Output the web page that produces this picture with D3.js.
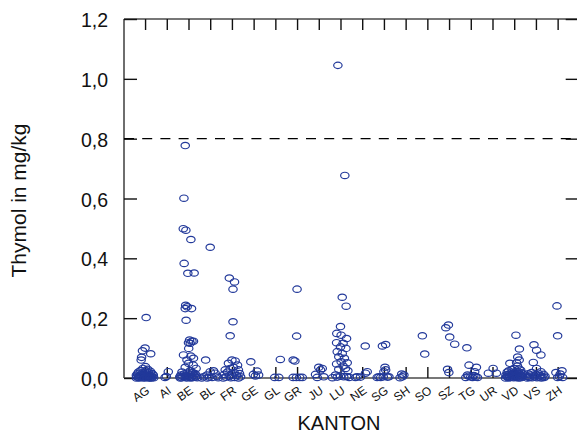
<!DOCTYPE html>
<html>
<head>
<meta charset="utf-8">
<script src="https://cdn.jsdelivr.net/npm/d3@7"></script>
<style>
  html, body { margin: 0; padding: 0; background: #fff; }
  svg { display: block; font-family: "Liberation Sans", Arial, sans-serif; }
</style>
</head>
<body>
<svg id="chart" width="577" height="434"></svg>
<script>
// Thymol residues per canton. Each sample: [mg/kg, horizontal jitter in category widths]
const cantons = ["AG","AI","BE","BL","FR","GE","GL","GR","JU","LU","NE","SG","SH","SO","SZ","TG","UR","VD","VS","ZH"];
const yTicks = [0, 0.2, 0.4, 0.6, 0.8, 1.0, 1.2];
const limitValue = 0.8;

const AG = [[0.202,0.05],[0.100,0.0],[0.091,-0.12],[0.081,0.26],[0.069,-0.16],[0.060,-0.18],
  [0.038,0.02],[0.032,-0.1],[0.029,0.12],[0.025,-0.2],[0.024,0.05],[0.022,0.25],[0.020,-0.3],[0.019,0.0],
  [0.018,0.15],[0.016,-0.12],[0.015,0.32],[0.014,-0.35],[0.013,0.08],[0.012,-0.05],[0.011,0.2],[0.010,-0.22],
  [0.010,0.38],[0.009,-0.4],[0.008,0.1],[0.008,-0.15],[0.007,0.28],[0.006,-0.28],[0.006,0.02],[0.005,0.18],
  [0.005,-0.08],[0.004,0.35],[0.004,-0.38],[0.003,0.12],[0.003,-0.18],[0.002,0.25],[0.002,-0.3],[0.002,0.05],
  [0.001,-0.1],[0.001,0.4],[0.001,0.15],[0.000,-0.25],[0.000,0.3],[0.000,-0.02],[0.000,0.2],[0.000,-0.4]];
const AI = [[0.021,0.07],[0.005,-0.02],[0.002,-0.08]];
const BE = [[0.777,-0.15],[0.601,-0.21],[0.499,-0.24],[0.494,-0.12],[0.463,0.11],[0.383,-0.2],[0.350,-0.03],
  [0.351,0.26],[0.243,-0.13],[0.238,-0.06],[0.232,-0.15],[0.232,0.14],[0.193,-0.11],[0.127,0.05],[0.123,0.16],
  [0.118,0.0],[0.123,0.23],[0.116,0.08],[0.099,0.01],[0.077,-0.23],[0.073,0.11],[0.060,-0.07],[0.066,0.23],
  [0.049,0.0],[0.043,0.22],[0.036,-0.15],[0.032,0.35],[0.024,0.08],
  [0.020,-0.3],[0.018,0.18],[0.016,-0.05],[0.015,0.3],[0.013,-0.2],[0.012,0.1],[0.010,-0.35],[0.009,0.25],
  [0.008,-0.1],[0.007,0.38],[0.006,0.02],[0.005,-0.25],[0.004,0.15],[0.004,-0.4],[0.003,0.32],[0.003,-0.15],
  [0.002,0.05],[0.002,0.22],[0.001,-0.3],[0.001,0.4],[0.000,-0.08],[0.000,0.12],[0.000,-0.38]];
const BL = [[0.437,0.0],[0.060,-0.21],[0.024,0.15],[0.021,0.0],[0.016,0.23],[0.010,-0.15],[0.006,0.31],
  [0.004,-0.31],[0.003,-0.05],[0.002,0.09],[0.001,0.37],[0.000,-0.39],[0.000,-0.14]];
const FR = [[0.334,-0.12],[0.321,0.12],[0.297,0.05],[0.188,0.05],[0.141,-0.08],[0.060,0.0],[0.057,0.15],
  [0.049,-0.16],[0.043,0.26],[0.036,0.07],[0.032,-0.08],[0.027,-0.31],[0.027,0.3],
  [0.020,-0.2],[0.018,0.1],[0.015,0.35],[0.012,-0.35],[0.010,0.0],[0.008,0.22],[0.006,-0.12],[0.004,0.4],
  [0.003,-0.28],[0.002,0.12],[0.001,-0.05],[0.000,0.3],[0.000,-0.4]];
const GE = [[0.054,-0.13],[0.023,0.16],[0.012,-0.01],[0.010,0.23],[0.007,0.08]];
const GL = [[0.062,0.23],[0.002,-0.03],[0.002,0.16]];
const GR = [[0.297,0.0],[0.140,-0.02],[0.060,-0.18],[0.057,-0.1],[0.002,-0.18],[0.002,-0.03],[0.002,0.12],[0.002,0.24]];
const JU = [[0.036,0.0],[0.032,0.16],[0.027,0.08],[0.012,-0.15],[0.004,0.23],[0.002,-0.07]];
const LU = [[1.045,-0.12],[0.677,0.2],[0.270,0.08],[0.240,0.26],[0.172,0.0],[0.149,-0.17],[0.143,0.03],
  [0.132,0.28],[0.118,-0.18],[0.116,0.12],[0.104,0.0],[0.099,0.25],[0.088,-0.15],[0.082,0.08],[0.071,-0.08],
  [0.066,0.18],[0.054,0.03],[0.051,0.31],[0.047,-0.18],[0.040,0.12],[0.032,0.23],[0.029,-0.08],[0.024,0.34],
  [0.010,-0.23],[0.006,0.0],[0.004,0.15],[0.003,-0.15],[0.005,0.28],[0.001,-0.37],[0.002,0.4]];
const NE = [[0.107,0.14],[0.021,0.23],[0.016,0.15],[0.004,-0.23],[0.003,-0.08],[0.002,-0.31]];
const SG = [[0.107,-0.07],[0.112,0.08],[0.036,0.05],[0.027,0.08],[0.021,0.0],[0.004,-0.23],[0.002,-0.15],
  [0.003,0.16],[0.004,0.23],[0.002,-0.31],[0.004,-0.03]];
const SH = [[0.013,-0.18],[0.010,-0.08],[0.001,-0.26],[0.004,-0.15]];
const SO = [[0.141,-0.23],[0.080,-0.12]];
const SZ = [[0.168,-0.15],[0.177,-0.03],[0.137,0.03],[0.113,0.26],[0.029,-0.07],[0.018,-0.01]];
const TG = [[0.101,-0.18],[0.043,-0.08],[0.036,0.26],[0.021,0.18],[0.010,-0.15],[0.004,0.0],[0.002,0.08],
  [0.004,0.23],[0.002,0.31],[0.002,-0.23],[0.006,-0.09],[0.008,0.14]];
const UR = [[0.032,0.03],[0.016,-0.19],[0.016,0.18]];
const VD = [[0.143,0.08],[0.097,0.24],[0.070,0.16],[0.060,0.23],[0.051,0.11],[0.049,-0.2],[0.040,0.15],
  [0.032,0.0],[0.030,0.23],
  [0.028,-0.1],[0.026,0.3],[0.024,-0.25],[0.022,0.08],[0.021,0.18],[0.020,-0.32],[0.018,0.0],[0.017,0.35],
  [0.016,-0.15],[0.015,0.22],[0.014,-0.05],[0.013,0.4],[0.012,-0.28],[0.011,0.12],[0.010,-0.38],[0.009,0.28],
  [0.008,-0.12],[0.008,0.05],[0.007,0.33],[0.006,-0.22],[0.006,0.15],[0.005,-0.35],[0.005,0.02],[0.004,0.25],
  [0.004,-0.08],[0.003,0.38],[0.003,-0.3],[0.002,0.1],[0.002,-0.18],[0.001,0.3],[0.001,-0.02],[0.000,-0.4],
  [0.000,0.2],[0.000,-0.25]];
const VS = [[0.111,-0.09],[0.093,0.03],[0.077,0.23],[0.052,-0.12],[0.032,0.03],[0.021,0.23],
  [0.018,-0.2],[0.016,0.1],[0.014,-0.35],[0.012,0.35],[0.011,0.0],[0.010,-0.25],[0.008,0.2],[0.007,-0.1],
  [0.006,0.42],[0.005,-0.38],[0.004,0.28],[0.003,-0.05],[0.003,0.15],[0.002,-0.3],[0.002,0.38],[0.001,0.05],
  [0.001,-0.18],[0.000,0.25],[0.000,-0.4]];
const ZH = [[0.241,-0.03],[0.141,0.0],[0.024,0.2],[0.018,-0.08],[0.013,0.12],[0.002,0.0],[0.002,0.23],[0.005,0.08]];

const samplesByCanton = [AG, AI, BE, BL, FR, GE, GL, GR, JU, LU, NE, SG, SH, SO, SZ, TG, UR, VD, VS, ZH];

const points = [];
cantons.forEach((c, i) => samplesByCanton[i].forEach(([v, j]) => points.push({ canton: c, value: v, jitter: j })));

const svg = d3.select("#chart");
const plotLeft = 124, plotRight = 578.7, plotTop = 19, plotBottom = 378;

const x = d3.scalePoint().domain(cantons).range([plotLeft, plotRight]).padding(0.97);
const y = d3.scaleLinear().domain([0, 1.2]).range([plotBottom, plotTop]);

const axisColor = "#111";
const frameColor = "#4a4a4a";
const dotColor = "#22399a";

// frame
const frame = svg.append("g");
frame.append("line").attr("x1", plotLeft).attr("x2", plotLeft).attr("y1", plotTop).attr("y2", plotBottom);
frame.append("line").attr("x1", plotLeft).attr("x2", plotRight).attr("y1", plotTop).attr("y2", plotTop);
frame.append("line").attr("x1", plotLeft).attr("x2", plotRight).attr("y1", plotBottom).attr("y2", plotBottom);
frame.append("line").attr("x1", plotRight).attr("x2", plotRight).attr("y1", plotTop).attr("y2", plotBottom);
frame.selectAll("line").attr("stroke", frameColor).attr("stroke-width", 1.6);

// y axes (ticks pointing inward on both sides)
const yLeft = svg.append("g").attr("transform", `translate(${plotLeft},0)`)
  .call(d3.axisRight(y).tickValues(yTicks).tickSize(13).tickFormat(""));
const yRight = svg.append("g").attr("transform", `translate(${plotRight},0)`)
  .call(d3.axisLeft(y).tickValues(yTicks).tickSize(13).tickFormat(""));
// x axes (ticks pointing inward at top and bottom)
const xBottom = svg.append("g").attr("transform", `translate(0,${plotBottom})`)
  .call(d3.axisTop(x).tickSize(11).tickFormat(""));
const xTop = svg.append("g").attr("transform", `translate(0,${plotTop})`)
  .call(d3.axisBottom(x).tickSize(11).tickFormat(""));
[yLeft, yRight, xBottom, xTop].forEach(g => {
  g.select(".domain").remove();
  g.selectAll(".tick line").attr("stroke", axisColor).attr("stroke-width", 1.4);
});

// y tick labels
svg.append("g").selectAll("text").data(yTicks).join("text")
  .attr("x", 108).attr("y", d => y(d) + 1)
  .attr("text-anchor", "end").attr("dominant-baseline", "central")
  .attr("font-size", 19.5).attr("fill", "#111")
  .text(d => d3.format(".1f")(d).replace(".", ","));

// x tick labels, rotated
svg.append("g").selectAll("text").data(cantons).join("text")
  .attr("transform", d => `translate(${x(d) + 3},${plotBottom + 11}) rotate(-35)`)
  .attr("text-anchor", "end").attr("dominant-baseline", "central")
  .attr("font-size", 12).attr("fill", "#111")
  .text(d => d);

// axis titles
svg.append("text")
  .attr("transform", `translate(18,${(plotTop + plotBottom) / 2 + 2}) rotate(-90)`)
  .attr("text-anchor", "middle").attr("dominant-baseline", "central")
  .attr("font-size", 21).attr("fill", "#111")
  .text("Thymol in mg/kg");
svg.append("text")
  .attr("x", 339).attr("y", 429.5)
  .attr("text-anchor", "middle")
  .attr("font-size", 20).attr("fill", "#111")
  .text("KANTON");

// limit line at 0.8 mg/kg
svg.append("line")
  .attr("x1", plotLeft).attr("x2", plotRight)
  .attr("y1", y(limitValue)).attr("y2", y(limitValue))
  .attr("stroke", "#000").attr("stroke-width", 1.4)
  .attr("stroke-dasharray", "10,8.2");

// samples
svg.append("g").selectAll("ellipse").data(points).join("ellipse")
  .attr("cx", d => x(d.canton) + d.jitter * x.step())
  .attr("cy", d => y(d.value))
  .attr("rx", 4.2).attr("ry", 3.2)
  .attr("fill", "none").attr("stroke", dotColor).attr("stroke-width", 1.2);
</script>
</body>
</html>
